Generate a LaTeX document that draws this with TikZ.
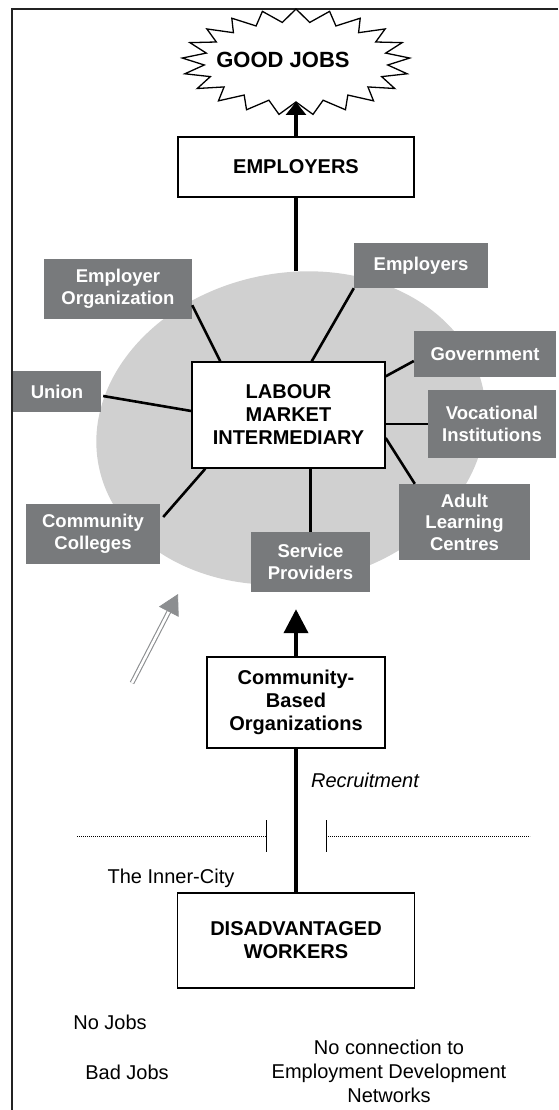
\documentclass[tikz,border=0pt]{standalone}
\usepackage{fontspec}
\setmainfont{Liberation Sans}
\usetikzlibrary{shapes.geometric,arrows.meta,calc}
\definecolor{tilegray}{RGB}{120,122,124}
\definecolor{hubgray}{RGB}{208,208,208}
\definecolor{arrowgray}{RGB}{140,142,144}
\definecolor{framegray}{RGB}{35,35,35}

\begin{document}
\begin{tikzpicture}[x=1pt,y=-1pt,
  whitebox/.style={draw=black, line width=1.4pt, fill=white, inner sep=2pt,
    align=center, font=\fontsize{20}{23}\selectfont\bfseries},
  tile/.style={fill=tilegray, text=white, inner sep=2pt, align=center,
    font=\fontsize{18.5}{21.5}\selectfont\bfseries},
  spoke/.style={line width=2.6pt, black},
  trunk/.style={line width=4pt, black},
  plain/.style={font=\fontsize{20}{24}\selectfont, align=center, inner sep=0pt}]

\useasboundingbox (0,0) rectangle (558,1110);

% frame (top and left rules)
\draw[framegray, line width=2.6pt] (558,9) -- (12,9) -- (12,1110);

% central shaded hub, slightly tilted
\node[ellipse, fill=hubgray, minimum width=392pt, minimum height=310pt, inner sep=0pt, rotate=11] (hub) at (291,428) {};
\coordinate (hubtop) at (296,271);

% explosion around GOOD JOBS
\draw[line width=1.3pt, fill=white]
  plot[samples=42, domain=0:41, variable=\t]
  ({296 + (114 - 22*mod(\t,2))*cos(81.43 + \t*180/21)},
   {62 + (53 - 13*mod(\t,2))*sin(81.43 + \t*180/21)}) -- cycle;
\node[font=\fontsize{22}{26}\selectfont\bfseries, inner sep=0pt] (good) at (283,60) {GOOD JOBS};
\coordinate (burst) at (296,102);

% main boxes
\node[whitebox, minimum width=236pt, minimum height=60pt] (emp) at (296,167) {EMPLOYERS};
\node[whitebox, minimum width=193pt, minimum height=106pt] (lmi) at (288.5,415) {LABOUR\\MARKET\\INTERMEDIARY};
\node[whitebox, minimum width=178pt, minimum height=91pt] (cbo) at (296,702.5) {Community-\\Based\\Organizations};
\node[whitebox, minimum width=237pt, minimum height=95pt] (dw) at (296,940.5) {DISADVANTAGED\\WORKERS};

% partner tiles
\node[tile, minimum width=148pt, minimum height=60pt] (eo) at (118,289) {Employer\\Organization};
\node[tile, minimum width=134pt, minimum height=45pt] (emps) at (421,265.5) {Employers};
\node[tile, minimum width=142pt, minimum height=46pt] (gov) at (485,354) {Government};
\node[tile, minimum width=128pt, minimum height=68pt] (voc) at (492,424) {Vocational\\Institutions};
\node[tile, minimum width=131pt, minimum height=76pt] (adult) at (464.5,522) {Adult\\Learning\\Centres};
\node[tile, minimum width=119pt, minimum height=60pt] (serv) at (310.5,562) {Service\\Providers};
\node[tile, minimum width=88pt, minimum height=41pt] (union) at (57,391.5) {Union};
\node[tile, minimum width=134pt, minimum height=60pt] (cc) at (93,534) {Community\\Colleges};

% spokes from the intermediary
\draw[spoke] ([yshift=14pt]eo.south east) -- ([xshift=29pt]lmi.north west);
\draw[spoke] (emps.south west) -- ([xshift=-74pt]lmi.north east);
\draw[spoke] ([yshift=-7pt]gov.west) -- ([yshift=-15pt]lmi.north east);
\draw[spoke] (voc.west) -- (lmi.east |- voc.west);
\draw[spoke] ([yshift=-23pt]lmi.east) -- ([xshift=16pt]adult.north west);
\draw[spoke] (serv.north) -- (serv.north |- lmi.south);
\draw[spoke] ([xshift=2pt,yshift=-4.5pt]union.east) -- ([yshift=4pt]lmi.west);
\draw[spoke] ([xshift=3pt,yshift=17pt]cc.east) -- ([xshift=14pt]lmi.south west);

% vertical flow
\draw[trunk, -{Triangle[length=13pt,width=20pt]}] (emp.north) -- (burst);
\draw[trunk] (emp.south) -- (hubtop);
\draw[trunk, -{Triangle[length=24pt,width=24pt]}, shorten >=17pt] (cbo.north) -- (cbo.north |- serv.south);
\draw[trunk] (cbo.south) -- (dw.north);

% hollow grey arrow
\coordinate (dA) at (132,683);
\coordinate (dB) at (178,594);
\draw[arrowgray, line width=1.1pt, double=white, double distance=2.6pt, shorten >=17pt] (dA) -- (dB);
\draw[arrowgray, line width=0.8pt, -{Triangle[length=20pt,width=22pt]}] ($(dB)!20pt!(dA)$) -- (dB);

% inner-city boundary
\draw[line width=0.8pt, dash pattern=on 0.8pt off 1.2pt] (77,836) -- (266,836);
\draw[line width=0.8pt, dash pattern=on 0.8pt off 1.2pt] (326,836) -- (530,836);
\draw[line width=1pt] (266,820) -- (266,852);
\draw[line width=1pt] (326,820) -- (326,852);

% labels
\node[plain, font=\fontsize{20}{24}\selectfont\itshape] (recr) at (365,780) {Recruitment};
\node[plain] (inner) at (171,878) {The Inner-City};
\node[plain] (nojobs) at (110,1022) {No Jobs};
\node[plain] (badjobs) at (127,1072) {Bad Jobs};
\node[plain] (noconn) at (389,1071) {No connection to\\Employment Development\\Networks};
\end{tikzpicture}
\end{document}
